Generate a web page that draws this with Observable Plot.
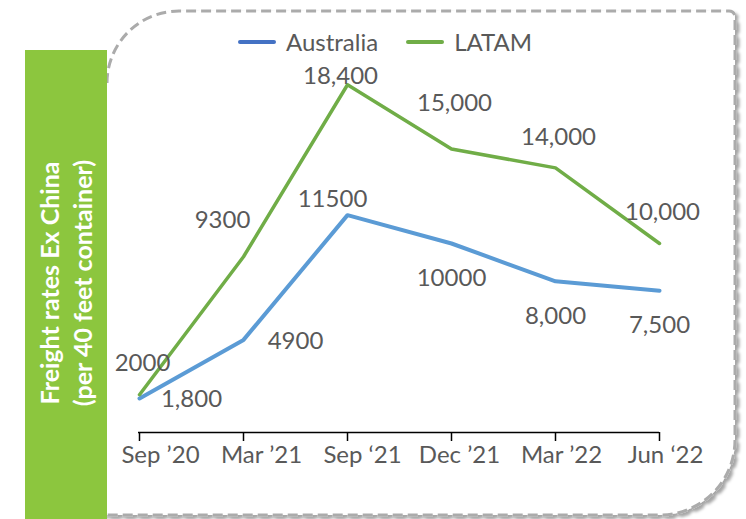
<!DOCTYPE html>
<html>
<head>
<meta charset="utf-8">
<script src="https://cdn.jsdelivr.net/npm/d3@7"></script>
<script src="https://cdn.jsdelivr.net/npm/@observablehq/plot@0.6"></script>
<style>
  html, body { margin: 0; padding: 0; background: #fff; }
  #wrap { position: relative; width: 746px; height: 519px; overflow: hidden; background: #fff; font-family: Lato, "Open Sans", sans-serif; }
  #border { position: absolute; left: 0; top: 0; }
  #chart { position: absolute; left: 0; top: 0; }
  #greenbox { position: absolute; left: 25px; top: 50px; width: 82px; height: 475px; background: #8cc63e;
    display: flex; align-items: center; justify-content: center; }
  #greenbox .t { transform: rotate(-90deg); white-space: nowrap; color: #fff; font-weight: bold; font-size: 25px;
    line-height: 33px; text-align: center; margin-top: -10px; }
  #legend { position: absolute; top: 27px; left: 238px; display: flex; align-items: center; font-size: 24px; color: #595959; }
  #legend .sw { display: inline-block; width: 38px; height: 4px; border-radius: 2px; margin-right: 10px; }
  #legend .it { display: flex; align-items: center; margin-right: 28px; }
</style>
</head>
<body>
<div id="wrap">
  <svg id="border" width="746" height="519"></svg>
  <div id="chart"></div>
  <div id="legend"></div>
  <div id="greenbox"><div class="t">Freight rates Ex China<br>(per 40 feet container)</div></div>
</div>
<script>
const categories = ["Sep \u201920", "Mar \u201921", "Sep \u201821", "Dec \u201921", "Mar \u201922", "Jun \u201822"];
const australia = [1800, 4900, 11500, 10000, 8000, 7500];
const latam = [2000, 9300, 18400, 15000, 14000, 10000];
const australiaLabels = ["1,800", "4900", "11500", "10000", "8,000", "7,500"];
const latamLabels = ["2000", "9300", "18,400", "15,000", "14,000", "10,000"];
const seriesNames = ["Australia", "LATAM"];
const seriesColors = ["#5b9bd5", "#70ad47"];
const legendColors = ["#4472c4", "#70ad47"];

const ausRows = categories.map((c, i) => ({cat: c, value: australia[i], label: australiaLabels[i], i}));
const latRows = categories.map((c, i) => ({cat: c, value: latam[i], label: latamLabels[i], i}));

// decorative dashed rounded frame
(function () {
  const svg = d3.select("#border");
  const L = 107, T = 11, R = 735, B = 515, rtl = 72, rtr = 6, rbr = 75;
  const defs = svg.append("defs");
  const f = defs.append("filter").attr("id", "sh").attr("x", "-5%").attr("y", "-5%").attr("width", "110%").attr("height", "110%");
  f.append("feDropShadow").attr("dx", 3).attr("dy", 3).attr("stdDeviation", 1.5).attr("flood-color", "#000").attr("flood-opacity", 0.35);
  const p = `M${L},${T + rtl} A${rtl},${rtl} 0 0 1 ${L + rtl},${T} H${R - rtr} A${rtr},${rtr} 0 0 1 ${R},${T + rtr} V${B - rbr} A${rbr},${rbr} 0 0 1 ${R - rbr},${B} H${L - 20}`;
  svg.append("path").attr("d", p).attr("fill", "#fff").attr("stroke", "#ababab").attr("stroke-width", 3)
    .attr("stroke-dasharray", "10 5").attr("filter", "url(#sh)");
})();

const lab = (rows, idx, dx, dy) => Plot.text(rows.filter(r => idx.includes(r.i)), {
  x: "cat", y: "value", text: "label", dx, dy, fontSize: 24, fill: "#595959"
});
const tickLab = (ticks, dx) => Plot.axisX(ticks, {tickSize: 0, tickPadding: 13, dx, fontSize: 24, fill: "#595959", label: null});

const chart = Plot.plot({
  width: 746, height: 519,
  marginLeft: 138, marginRight: 87, marginTop: 54, marginBottom: 87,
  x: {type: "point", domain: categories, padding: 0, axis: null, label: null},
  y: {domain: [0, 20000], axis: null},
  style: {fontFamily: "Lato, 'Open Sans', sans-serif", background: "transparent", overflow: "visible"},
  marks: [
    Plot.ruleY([0], {stroke: "#000", strokeWidth: 1.5}),
    Plot.axisX({tickSize: 9, tickFormat: () => "", stroke: "#000", strokeWidth: 1.5, label: null}),
    tickLab([categories[0]], 21),
    tickLab([categories[1]], 18),
    tickLab([categories[2]], 15),
    tickLab([categories[3]], 8),
    tickLab([categories[4], categories[5]], 6),
    Plot.line(ausRows, {x: "cat", y: "value", stroke: seriesColors[0], strokeWidth: 4}),
    Plot.line(latRows, {x: "cat", y: "value", stroke: seriesColors[1], strokeWidth: 3.5}),
    lab(latRows, [0, 4, 5], 3, -31),
    lab(latRows, [1], -21, -36),
    lab(latRows, [2], -7, -8),
    lab(latRows, [3], 3, -46),
    lab(ausRows, [0, 1], 52, 1),
    lab(ausRows, [2], -15, -16),
    lab(ausRows, [3, 4, 5], 0, 35)
  ]
});
document.getElementById("chart").appendChild(chart);

const lg = d3.select("#legend");
seriesNames.forEach((n, i) => {
  const it = lg.append("div").attr("class", "it");
  it.append("span").attr("class", "sw").style("background", legendColors[i]);
  it.append("span").text(n);
});
</script>
</body>
</html>
